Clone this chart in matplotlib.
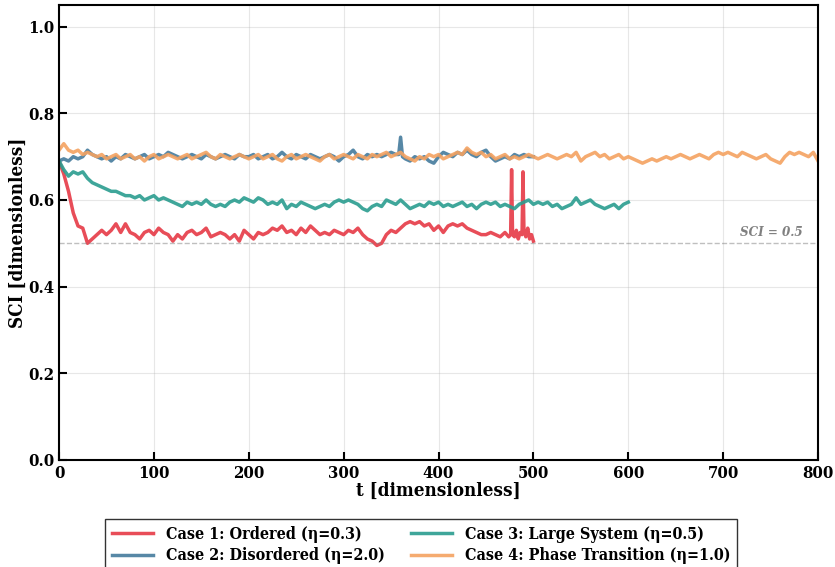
import numpy as np
import matplotlib.pyplot as plt
from matplotlib import font_manager

# condensed serif if available
names = {f.name for f in font_manager.fontManager.ttflist}
if 'DejaVu Serif Condensed' in names:
    plt.rcParams['font.family'] = 'DejaVu Serif Condensed'
else:
    plt.rcParams['font.family'] = 'DejaVu Serif'
    plt.rcParams['font.stretch'] = 'condensed'
plt.rcParams['font.weight'] = 'bold'

# Case 1: ordered
t1 = list(range(0, 475, 5)) + [474, 476, 477, 478, 480, 482, 484, 486, 488, 489, 490, 492, 494, 496, 498, 500]
sci1 = [0.69, 0.66, 0.62, 0.57, 0.54, 0.535, 0.50, 0.51, 0.52, 0.53,
        0.52, 0.53, 0.545, 0.525, 0.545, 0.525, 0.52, 0.51, 0.525, 0.53,
        0.52, 0.535, 0.525, 0.52, 0.505, 0.52, 0.51, 0.525, 0.53, 0.52,
        0.525, 0.535, 0.515, 0.52, 0.525, 0.52, 0.51, 0.52, 0.505, 0.53,
        0.52, 0.51, 0.525, 0.52, 0.525, 0.535, 0.53, 0.54, 0.525, 0.53,
        0.52, 0.535, 0.525, 0.54, 0.53, 0.52, 0.525, 0.52, 0.53, 0.525,
        0.52, 0.53, 0.525, 0.535, 0.52, 0.51, 0.505, 0.495, 0.50, 0.52,
        0.53, 0.525, 0.535, 0.545, 0.55, 0.545, 0.55, 0.54, 0.545, 0.53,
        0.54, 0.525, 0.54, 0.545, 0.54, 0.545, 0.535, 0.53, 0.525, 0.52,
        0.52, 0.525, 0.52, 0.515, 0.525,
        0.515, 0.52, 0.67, 0.52, 0.515, 0.53, 0.51, 0.525, 0.52, 0.665,
        0.53, 0.515, 0.535, 0.51, 0.52, 0.505]

# Case 2: disordered
t2 = list(range(0, 360, 5)) + [358, 360, 362] + list(range(365, 501, 5))
sci2 = [0.69, 0.695, 0.69, 0.70, 0.695, 0.70, 0.715, 0.705, 0.70, 0.695,
        0.70, 0.69, 0.70, 0.695, 0.705, 0.70, 0.695, 0.70, 0.705, 0.695,
        0.70, 0.705, 0.70, 0.71, 0.705, 0.70, 0.695, 0.70, 0.705, 0.70,
        0.695, 0.705, 0.70, 0.695, 0.70, 0.705, 0.70, 0.695, 0.705, 0.70,
        0.70, 0.705, 0.695, 0.70, 0.705, 0.695, 0.70, 0.71, 0.70, 0.695,
        0.705, 0.70, 0.695, 0.705, 0.70, 0.695, 0.70, 0.705, 0.70, 0.69,
        0.70, 0.705, 0.715, 0.70, 0.695, 0.705, 0.70, 0.705, 0.70, 0.705,
        0.71, 0.705,
        0.705, 0.745, 0.70,
        0.695, 0.69, 0.70, 0.695, 0.70, 0.69, 0.685, 0.70, 0.71, 0.705,
        0.70, 0.71, 0.705, 0.715, 0.705, 0.70, 0.71, 0.715, 0.70, 0.69,
        0.695, 0.70, 0.695, 0.705, 0.70, 0.705, 0.70, 0.70]

# Case 3: large system
t3 = list(range(0, 601, 5))
sci3 = [0.69, 0.67, 0.655, 0.665, 0.66, 0.665, 0.65, 0.64, 0.635, 0.63,
        0.625, 0.62, 0.62, 0.615, 0.61, 0.61, 0.605, 0.61, 0.60, 0.605,
        0.61, 0.60, 0.605, 0.60, 0.595, 0.59, 0.585, 0.595, 0.59, 0.595,
        0.59, 0.60, 0.59, 0.585, 0.59, 0.585, 0.595, 0.60, 0.595, 0.605,
        0.60, 0.595, 0.605, 0.60, 0.59, 0.595, 0.59, 0.60, 0.58, 0.59,
        0.585, 0.595, 0.59, 0.585, 0.58, 0.585, 0.59, 0.585, 0.595, 0.60,
        0.595, 0.60, 0.595, 0.59, 0.58, 0.575, 0.585, 0.59, 0.585, 0.60,
        0.595, 0.59, 0.60, 0.59, 0.58, 0.585, 0.59, 0.585, 0.595, 0.59,
        0.595, 0.585, 0.59, 0.585, 0.59, 0.595, 0.585, 0.59, 0.58, 0.59,
        0.595, 0.59, 0.595, 0.585, 0.59, 0.585, 0.58, 0.59, 0.595, 0.60,
        0.59, 0.595, 0.59, 0.595, 0.585, 0.59, 0.58, 0.585, 0.59, 0.605,
        0.59, 0.595, 0.60, 0.59, 0.585, 0.58, 0.585, 0.59, 0.58, 0.59,
        0.595]

# Case 4: phase transition
t4 = list(range(0, 801, 5))
sci4 = [0.715, 0.73, 0.715, 0.71, 0.715, 0.705, 0.71, 0.705, 0.70, 0.705,
        0.695, 0.70, 0.705, 0.695, 0.70, 0.705, 0.695, 0.70, 0.69, 0.70,
        0.705, 0.695, 0.70, 0.705, 0.70, 0.695, 0.70, 0.705, 0.695, 0.70,
        0.705, 0.71, 0.70, 0.695, 0.705, 0.70, 0.695, 0.70, 0.705, 0.70,
        0.695, 0.70, 0.705, 0.695, 0.70, 0.705, 0.695, 0.69, 0.70, 0.705,
        0.695, 0.70, 0.705, 0.70, 0.695, 0.69, 0.70, 0.705, 0.695, 0.70,
        0.705, 0.70, 0.695, 0.705, 0.70, 0.695, 0.705, 0.70, 0.705, 0.71,
        0.70, 0.705, 0.71, 0.70, 0.695, 0.69, 0.70, 0.695, 0.705, 0.70,
        0.705, 0.695, 0.70, 0.705, 0.71, 0.705, 0.72, 0.71, 0.705, 0.71,
        0.70, 0.705, 0.695, 0.70, 0.705, 0.695, 0.70, 0.695, 0.70, 0.705,
        0.70, 0.695, 0.70, 0.705, 0.70, 0.695, 0.70, 0.705, 0.70, 0.71,
        0.69, 0.70, 0.705, 0.71, 0.70, 0.705, 0.695, 0.70, 0.705, 0.695,
        0.70, 0.695, 0.69, 0.685, 0.69, 0.695, 0.69, 0.695, 0.70, 0.695,
        0.70, 0.705, 0.70, 0.695, 0.70, 0.705, 0.70, 0.695, 0.705, 0.71,
        0.705, 0.71, 0.705, 0.70, 0.71, 0.705, 0.70, 0.695, 0.70, 0.705,
        0.695, 0.69, 0.685, 0.70, 0.71, 0.705, 0.71, 0.705, 0.70, 0.71,
        0.69]

labels = ['Case 1: Ordered (η=0.3)', 'Case 2: Disordered (η=2.0)',
          'Case 3: Large System (η=0.5)', 'Case 4: Phase Transition (η=1.0)']
colors = ['#e63946', '#457b9d', '#2a9d8f', '#f4a261']

fig = plt.figure(figsize=(8.35, 5.67), dpi=100)
ax = fig.add_axes([0.0707, 0.189, 0.909, 0.802])

for t, s, lab, c in zip([t1, t2, t3, t4], [sci1, sci2, sci3, sci4], labels, colors):
    ax.plot(t, s, color=c, lw=2.5, alpha=0.9, label=lab)

ax.axhline(0.5, color='gray', ls='--', lw=1, alpha=0.5)
ax.text(784, 0.51, 'SCI = 0.5', ha='right', va='bottom', fontsize=9.5,
        style='italic', fontweight='bold', color='gray')

ax.set_xlim(0, 800)
ax.set_ylim(0, 1.05)
ax.set_xlabel('t [dimensionless]', fontsize=13.5, fontweight='bold', labelpad=0)
ax.set_ylabel('SCI [dimensionless]', fontsize=13.5, fontweight='bold', labelpad=1)
ax.grid(True, alpha=0.3)
ax.tick_params(direction='in', length=6, width=1.5, labelsize=12)
for sp in ax.spines.values():
    sp.set_linewidth(1.5)

leg = ax.legend(loc='upper center', bbox_to_anchor=(0.477, -0.113), ncol=2,
                fontsize=11.5, frameon=True, fancybox=False, edgecolor='black',
                handlelength=2.6, columnspacing=1.6, labelspacing=0.3)
leg.get_frame().set_linewidth(1.0)

fig.savefig('out.png', dpi=100)
